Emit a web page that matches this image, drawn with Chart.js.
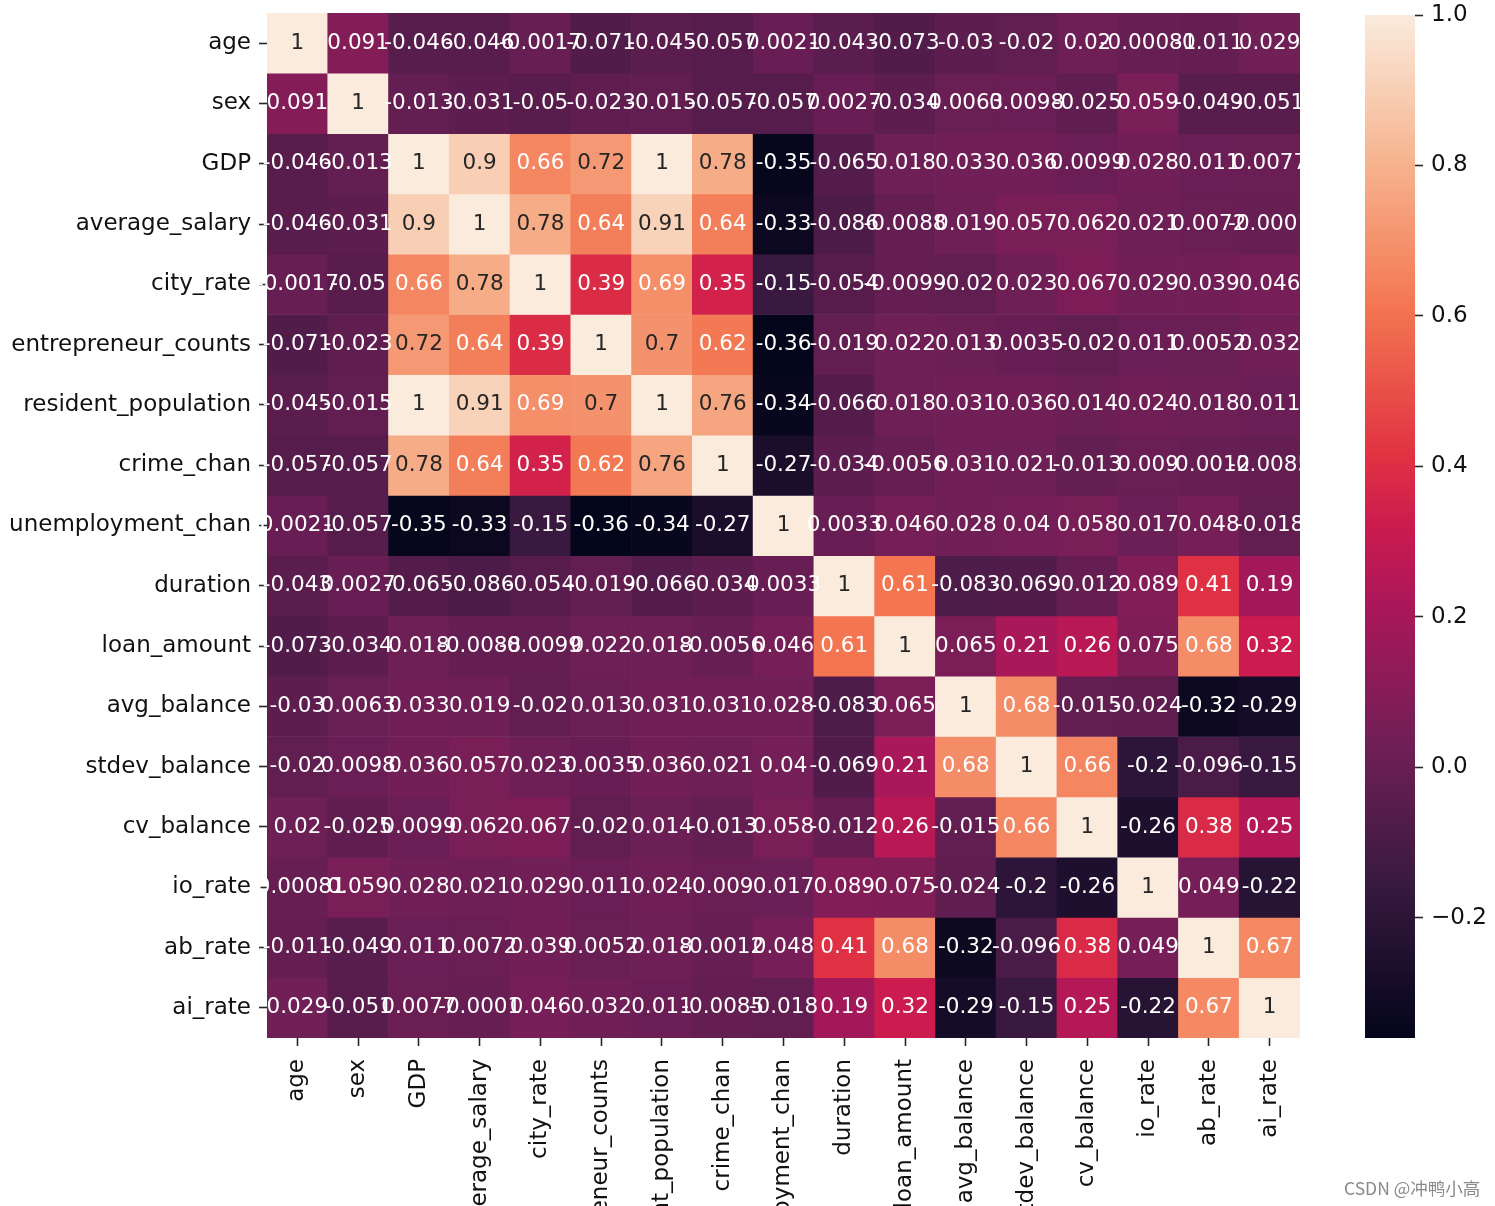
<!DOCTYPE html>
<html><head><meta charset="utf-8">
<script src="https://cdn.jsdelivr.net/npm/chart.js@4"></script>
<style>
html,body{margin:0;padding:0;background:#fff;width:1495px;height:1206px;overflow:hidden;}
#main{position:absolute;left:0;top:0;}
#cbar{position:absolute;left:1340px;top:0;}
#wm{position:absolute;left:1344px;top:1175px;font:17.5px "Noto Sans CJK SC","DejaVu Sans",sans-serif;color:#8a8a8a;white-space:nowrap;}
</style></head><body>
<canvas id="main" width="1495" height="1320"></canvas>
<canvas id="cbar" width="155" height="1206"></canvas>
<div id="wm">CSDN @冲鸭小高</div>
<script>
// ---- data ----
const labels = ["age","sex","GDP","average_salary","city_rate","entrepreneur_counts","resident_population","crime_chan","unemployment_chan","duration","loan_amount","avg_balance","stdev_balance","cv_balance","io_rate","ab_rate","ai_rate"];
const rowAge = [1, 0.091, -0.046, -0.046, -0.0017, -0.071, -0.045, -0.057, 0.0021, -0.043, -0.073, -0.03, -0.02, 0.02, -0.00081, -0.011, 0.029];
const rowSex = [0.091, 1, -0.013, -0.031, -0.05, -0.023, -0.015, -0.057, -0.057, 0.0027, -0.034, 0.0063, 0.0098, -0.025, 0.059, -0.049, -0.051];
const rowGDP = [-0.046, -0.013, 1, 0.9, 0.66, 0.72, 1, 0.78, -0.35, -0.065, 0.018, 0.033, 0.036, 0.0099, 0.028, 0.011, 0.0077];
const rowAverageSalary = [-0.046, -0.031, 0.9, 1, 0.78, 0.64, 0.91, 0.64, -0.33, -0.086, -0.0088, 0.019, 0.057, 0.062, 0.021, 0.0072, -0.0001];
const rowCityRate = [-0.0017, -0.05, 0.66, 0.78, 1, 0.39, 0.69, 0.35, -0.15, -0.054, -0.0099, -0.02, 0.023, 0.067, 0.029, 0.039, 0.046];
const rowEntrepreneurCounts = [-0.071, -0.023, 0.72, 0.64, 0.39, 1, 0.7, 0.62, -0.36, -0.019, 0.022, 0.013, 0.0035, -0.02, 0.011, 0.0052, 0.032];
const rowResidentPopulation = [-0.045, -0.015, 1, 0.91, 0.69, 0.7, 1, 0.76, -0.34, -0.066, 0.018, 0.031, 0.036, 0.014, 0.024, 0.018, 0.011];
const rowCrimeChan = [-0.057, -0.057, 0.78, 0.64, 0.35, 0.62, 0.76, 1, -0.27, -0.034, -0.0056, 0.031, 0.021, -0.013, 0.009, -0.0012, -0.0085];
const rowUnemploymentChan = [0.0021, -0.057, -0.35, -0.33, -0.15, -0.36, -0.34, -0.27, 1, 0.0033, 0.046, 0.028, 0.04, 0.058, 0.017, 0.048, -0.018];
const rowDuration = [-0.043, 0.0027, -0.065, -0.086, -0.054, -0.019, -0.066, -0.034, 0.0033, 1, 0.61, -0.083, -0.069, -0.012, 0.089, 0.41, 0.19];
const rowLoanAmount = [-0.073, -0.034, 0.018, -0.0088, -0.0099, 0.022, 0.018, -0.0056, 0.046, 0.61, 1, 0.065, 0.21, 0.26, 0.075, 0.68, 0.32];
const rowAvgBalance = [-0.03, 0.0063, 0.033, 0.019, -0.02, 0.013, 0.031, 0.031, 0.028, -0.083, 0.065, 1, 0.68, -0.015, -0.024, -0.32, -0.29];
const rowStdevBalance = [-0.02, 0.0098, 0.036, 0.057, 0.023, 0.0035, 0.036, 0.021, 0.04, -0.069, 0.21, 0.68, 1, 0.66, -0.2, -0.096, -0.15];
const rowCvBalance = [0.02, -0.025, 0.0099, 0.062, 0.067, -0.02, 0.014, -0.013, 0.058, -0.012, 0.26, -0.015, 0.66, 1, -0.26, 0.38, 0.25];
const rowIoRate = [-0.00081, 0.059, 0.028, 0.021, 0.029, 0.011, 0.024, 0.009, 0.017, 0.089, 0.075, -0.024, -0.2, -0.26, 1, 0.049, -0.22];
const rowAbRate = [-0.011, -0.049, 0.011, 0.0072, 0.039, 0.0052, 0.018, -0.0012, 0.048, 0.41, 0.68, -0.32, -0.096, 0.38, 0.049, 1, 0.67];
const rowAiRate = [0.029, -0.051, 0.0077, -0.0001, 0.046, 0.032, 0.011, -0.0085, -0.018, 0.19, 0.32, -0.29, -0.15, 0.25, -0.22, 0.67, 1];
const colorbarTicks = [-0.2, 0.0, 0.2, 0.4, 0.6, 0.8, 1.0];

const matrix = [rowAge,rowSex,rowGDP,rowAverageSalary,rowCityRate,rowEntrepreneurCounts,rowResidentPopulation,rowCrimeChan,rowUnemploymentChan,rowDuration,rowLoanAmount,rowAvgBalance,rowStdevBalance,rowCvBalance,rowIoRate,rowAbRate,rowAiRate];
const vmin = Math.min(...matrix.flat());
const vmax = Math.max(...matrix.flat());

// ---- rocket colormap ----
const rocketStops = [[0,[3,5,26]],[1/7,[53,25,62]],[2/7,[112,31,87]],[3/7,[173,23,89]],[0.5,[203,27,79]],[4/7,[225,51,66]],[5/7,[243,118,81]],[6/7,[246,180,143]],[1,[250,235,221]]];
function rocket(t){
  t = Math.max(0, Math.min(1, t));
  for (let k = 1; k < rocketStops.length; k++){
    const [p1,c1] = rocketStops[k-1], [p2,c2] = rocketStops[k];
    if (t <= p2){ const f = (t-p1)/(p2-p1); return c1.map((c,i)=>c+(c2[i]-c)*f); }
  }
  return rocketStops[rocketStops.length-1][1];
}
const rgbStr = c => `rgb(${Math.round(c[0])},${Math.round(c[1])},${Math.round(c[2])})`;
const norm = v => (v - vmin)/(vmax - vmin);
function lum(c){ const l = c.map(v=>{v/=255; return v<=0.03928? v/12.92 : Math.pow((v+0.055)/1.055,2.4);}); return 0.2126*l[0]+0.7152*l[1]+0.0722*l[2]; }
const fmt = v => String(Number(v.toPrecision(2)));

Chart.defaults.font.family = "'DejaVu Sans'";
const tickFont = {size: 23, family: "'DejaVu Sans'"};
const tickColor = '#111';

const datasets = matrix.map((row, i) => ({
  label: labels[i],
  data: row.map(() => [i, i + 1]),
  backgroundColor: row.map(v => rgbStr(rocket(norm(v)))),
  borderWidth: 0,
  barPercentage: 1,
  categoryPercentage: 1,
  grouped: false
}));

const annot = {
  id: 'annot',
  afterDatasetsDraw(chart){
    const ctx = chart.ctx;
    ctx.save();
    ctx.font = "21.5px 'DejaVu Sans'";
    ctx.textAlign = 'center';
    ctx.textBaseline = 'middle';
    matrix.forEach((row, i) => {
      const meta = chart.getDatasetMeta(i);
      row.forEach((v, j) => {
        const el = meta.data[j];
        const cy = (el.y + el.base)/2;
        ctx.fillStyle = lum(rocket(norm(v))) > 0.408 ? 'rgb(38,38,38)' : '#ffffff';
        ctx.fillText(fmt(v), el.x, cy);
      });
    });
    ctx.restore();
  }
};

new Chart(document.getElementById('main'), {
  type: 'bar',
  data: { labels: labels, datasets: datasets },
  options: {
    responsive: false, animation: false, events: [],
    layout: { padding: { left: 0, top: 13, right: 195, bottom: 0 } },
    plugins: { legend: { display: false }, tooltip: { enabled: false } },
    scales: {
      x: {
        type: 'category', offset: true,
        grid: { offset: false, drawOnChartArea: false, drawTicks: true, tickLength: 8, tickWidth: 1.6, tickColor: '#262626' },
        border: { display: false },
        ticks: { autoSkip: false, maxRotation: 90, minRotation: 90, padding: 13, font: tickFont, color: tickColor },
        afterFit(a){ a.height = 282; a.paddingLeft = 0; a.paddingRight = 0; }
      },
      y: {
        type: 'linear', min: 0, max: 17, reverse: true,
        afterBuildTicks(a){ a.ticks = labels.map((_, i) => ({ value: i + 0.5 })); },
        grid: { drawOnChartArea: false, drawTicks: true, tickLength: 8, tickWidth: 1.6, tickColor: '#262626' },
        border: { display: false },
        ticks: { autoSkip: false, padding: 8, font: tickFont, color: tickColor, callback: v => labels[Math.floor(v)] },
        afterFit(a){ a.width = 267; a.paddingTop = 0; a.paddingBottom = 0; }
      }
    }
  },
  plugins: [annot]
});

// ---- colorbar ----
new Chart(document.getElementById('cbar'), {
  type: 'bar',
  data: { labels: [''], datasets: [{
    data: [[vmin, vmax]],
    backgroundColor: (c) => {
      const a = c.chart.chartArea; if (!a) return null;
      const g = c.chart.ctx.createLinearGradient(0, a.bottom, 0, a.top);
      rocketStops.forEach(([p, col]) => g.addColorStop(p, rgbStr(col)));
      return g;
    },
    borderWidth: 0, barPercentage: 1, categoryPercentage: 1
  }]},
  options: {
    responsive: false, animation: false, events: [],
    layout: { padding: { left: 25, top: 15, right: 0, bottom: 168 } },
    plugins: { legend: { display: false }, tooltip: { enabled: false } },
    scales: {
      x: { display: false },
      y: {
        position: 'right', min: vmin, max: vmax,
        afterBuildTicks(a){ a.ticks = colorbarTicks.map(v => ({ value: v })); },
        grid: { drawOnChartArea: false, drawTicks: true, tickLength: 8, tickWidth: 1.6, tickColor: '#262626' },
        border: { display: false },
        ticks: { padding: 8, font: tickFont, color: tickColor, callback: v => v.toFixed(1).replace('-', '\u2212') },
        afterFit(a){ a.width = 80; a.paddingTop = 0; a.paddingBottom = 0; }
      }
    }
  }
});
</script>
</body></html>
